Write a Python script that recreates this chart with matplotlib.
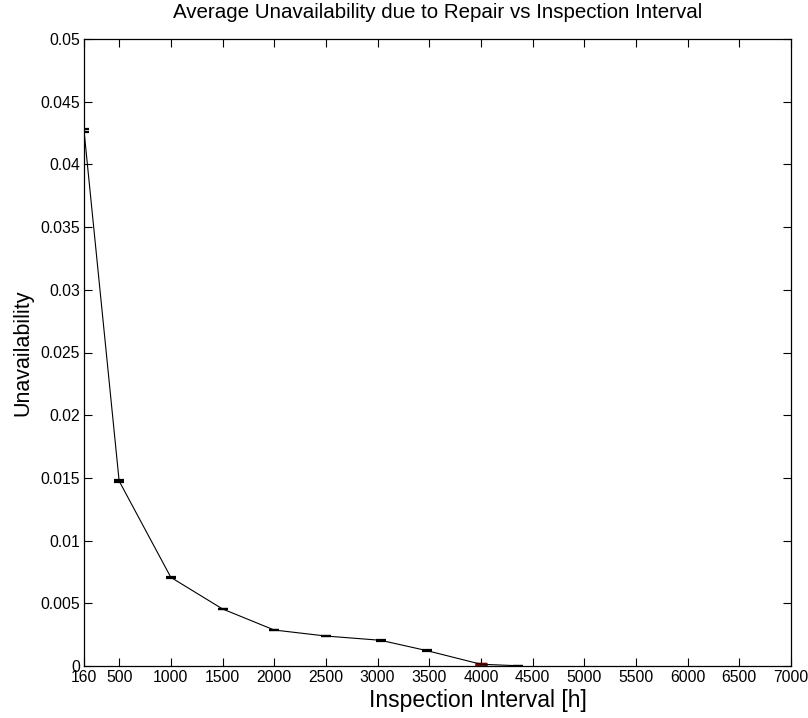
import matplotlib
matplotlib.use("Agg")
import matplotlib.pyplot as plt

plt.rcParams['font.family'] = ['Liberation Sans', 'DejaVu Sans']

intervals = [160, 500, 1000, 1500, 2000, 2500, 3030, 3480, 4000, 4360]
unavail = [0.0427, 0.01475, 0.00707, 0.00455, 0.00287, 0.00239, 0.00205, 0.00122, 0.00014, 0.00002]
errs = [0.0001, 0.00005, 0.00005, 0.00003, 0.00003, 0.00003, 0.00002, 0.00002, 0.00003, 0.00001]
red_x = [4000]
red_y = [0.00014]
red_err = [0.00005]

xticks = [160, 500, 1000, 1500, 2000, 2500, 3000, 3500, 4000, 4500, 5000, 5500, 6000, 6500, 7000]
xtick_labels = [str(t) for t in xticks]
yticks = [0, 0.005, 0.01, 0.015, 0.02, 0.025, 0.03, 0.035, 0.04, 0.045, 0.05]
ytick_labels = ['0', '0.005', '0.01', '0.015', '0.02', '0.025', '0.03', '0.035', '0.04', '0.045', '0.05']

fig = plt.figure(figsize=(8.08, 7.18), dpi=100)
ax = fig.add_axes([84/808, 52/718, 707/808, 627/718])

ax.errorbar(intervals, unavail, yerr=errs, color='black', lw=0.8,
            capsize=3.6, elinewidth=0.8, capthick=1.6)
ax.errorbar(red_x, red_y, yerr=red_err, color='#8b0000', lw=0,
            capsize=4, elinewidth=1.5, capthick=2.5)

ax.set_xlim(160, 7000)
ax.set_ylim(0, 0.05)
ax.set_xticks(xticks)
ax.set_xticklabels(xtick_labels)
ax.set_yticks(yticks)
ax.set_yticklabels(ytick_labels)
ax.tick_params(direction='in', length=5.5, width=0.8, top=True, right=True,
               labelsize=11.3)
ax.tick_params(axis='x', pad=3)
ax.tick_params(axis='y', pad=3)
for s in ax.spines.values():
    s.set_linewidth(0.9)

ax.set_title('Average Unavailability due to Repair vs Inspection Interval', fontsize=14.8, pad=15)
ax.set_xlabel('Inspection Interval [h]', fontsize=16.5)
ax.xaxis.set_label_coords(0.557, -0.036, transform=ax.transAxes)
ax.xaxis.label.set_verticalalignment('top')
ax.set_ylabel('Unavailability', fontsize=15.5, labelpad=5)

fig.savefig('out.png', dpi=100)
